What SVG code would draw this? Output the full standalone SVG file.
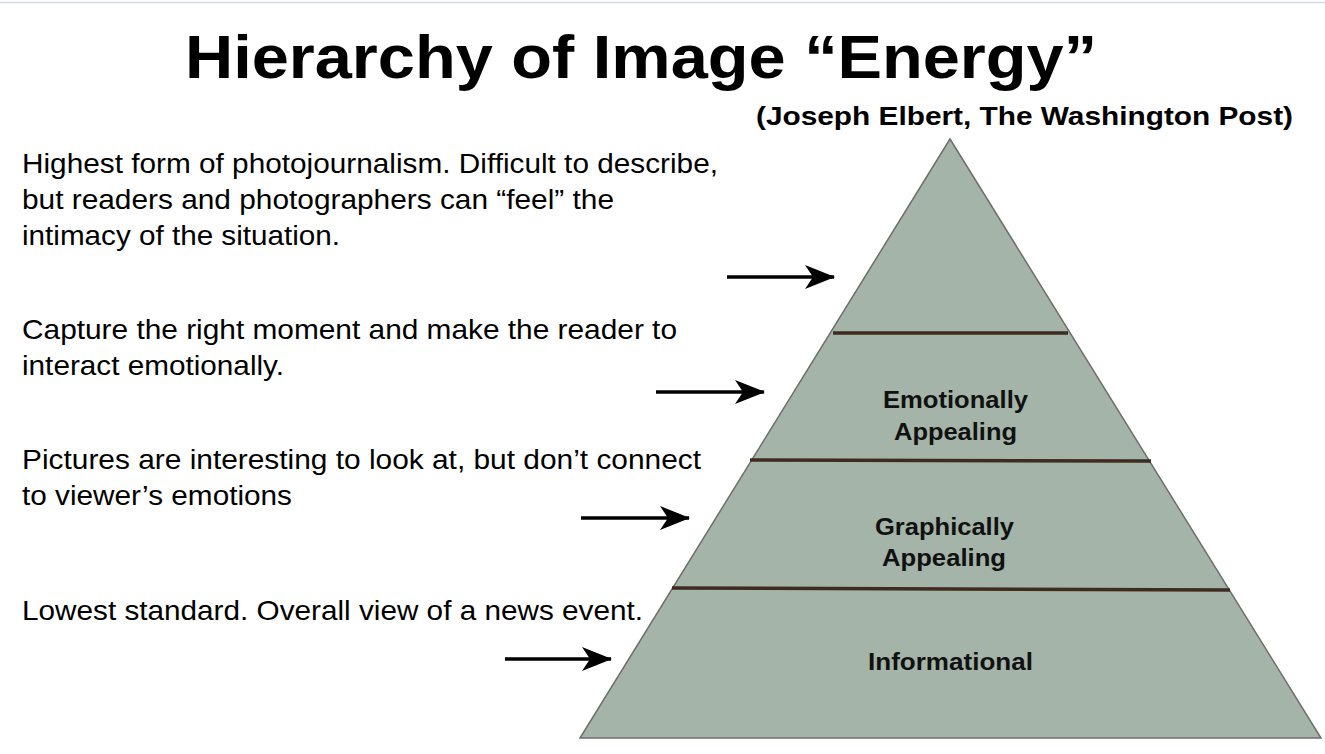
<svg xmlns="http://www.w3.org/2000/svg" width="1325" height="754" viewBox="0 0 1325 754">
<defs>
<style>
.title{font-family:"Liberation Sans",Arial,sans-serif;font-weight:bold;font-size:61px;fill:#000}
.sub{font-family:"Liberation Sans",Arial,sans-serif;font-weight:bold;font-size:26px;fill:#000}
.desc{font-family:"Liberation Sans",Arial,sans-serif;font-size:27.5px;fill:#000}
.lbl{font-family:"Liberation Sans",Arial,sans-serif;font-weight:bold;font-size:24px;fill:#111}
.div{stroke:#3e2c22;stroke-width:3.5}
.arr{stroke:#000;stroke-width:3.5;fill:none}
</style>
<marker id="ah" markerWidth="30" markerHeight="24" refX="29" refY="12" orient="auto" markerUnits="userSpaceOnUse" viewBox="0 0 30 24">
<path d="M0,0 L30,12 L0,24 L8,12 Z" fill="#000"/>
</marker>
</defs>
<rect width="1325" height="754" fill="#fff"/>
<line x1="0" y1="2.5" x2="1325" y2="2.5" stroke="#d3d9de" stroke-width="1.5"/>
<text class="title" x="185" y="78" textLength="912" lengthAdjust="spacingAndGlyphs">Hierarchy of Image “Energy”</text>
<text class="sub" x="756" y="125" textLength="537" lengthAdjust="spacingAndGlyphs">(Joseph Elbert, The Washington Post)</text>
<g id="pyramid">
<polygon points="950,139 1321,738 580,738" fill="#a4b4a8" stroke="#6b6f6b" stroke-width="1.5"/>
<line class="div" x1="833" y1="333" x2="1068" y2="333"/>
<line class="div" x1="750" y1="460" x2="1151" y2="461"/>
<line class="div" x1="672" y1="588" x2="1230" y2="590"/>
</g>
<g id="level-emotional">
<text class="lbl" x="883" y="408" textLength="145" lengthAdjust="spacingAndGlyphs">Emotionally</text>
<text class="lbl" x="894" y="440" textLength="123" lengthAdjust="spacingAndGlyphs">Appealing</text>
</g>
<g id="level-graphical">
<text class="lbl" x="875" y="535" textLength="139" lengthAdjust="spacingAndGlyphs">Graphically</text>
<text class="lbl" x="882" y="566" textLength="124" lengthAdjust="spacingAndGlyphs">Appealing</text>
</g>
<g id="level-informational">
<text class="lbl" x="868" y="670" textLength="165" lengthAdjust="spacingAndGlyphs">Informational</text>
</g>
<g id="desc-top">
<text class="desc" x="22" y="173" textLength="696" lengthAdjust="spacingAndGlyphs">Highest form of photojournalism. Difficult to describe,</text>
<text class="desc" x="22" y="209" textLength="592" lengthAdjust="spacingAndGlyphs">but readers and photographers can “feel” the</text>
<text class="desc" x="22" y="245" textLength="318" lengthAdjust="spacingAndGlyphs">intimacy of the situation.</text>
</g>
<g id="desc-emotional">
<text class="desc" x="22" y="339" textLength="655" lengthAdjust="spacingAndGlyphs">Capture the right moment and make the reader to</text>
<text class="desc" x="22" y="375" textLength="262" lengthAdjust="spacingAndGlyphs">interact emotionally.</text>
</g>
<g id="desc-graphical">
<text class="desc" x="22" y="469" textLength="679" lengthAdjust="spacingAndGlyphs">Pictures are interesting to look at, but don’t connect</text>
<text class="desc" x="22" y="505" textLength="270" lengthAdjust="spacingAndGlyphs">to viewer’s emotions</text>
</g>
<g id="desc-informational">
<text class="desc" x="22" y="620" textLength="621" lengthAdjust="spacingAndGlyphs">Lowest standard. Overall view of a news event.</text>
</g>
<g id="connectors">
<line class="arr" x1="727" y1="277" x2="834" y2="277" marker-end="url(#ah)"/>
<line class="arr" x1="656" y1="392" x2="764" y2="392" marker-end="url(#ah)"/>
<line class="arr" x1="581" y1="518" x2="689" y2="518" marker-end="url(#ah)"/>
<line class="arr" x1="505" y1="659" x2="611" y2="659" marker-end="url(#ah)"/>
</g>
</svg>
